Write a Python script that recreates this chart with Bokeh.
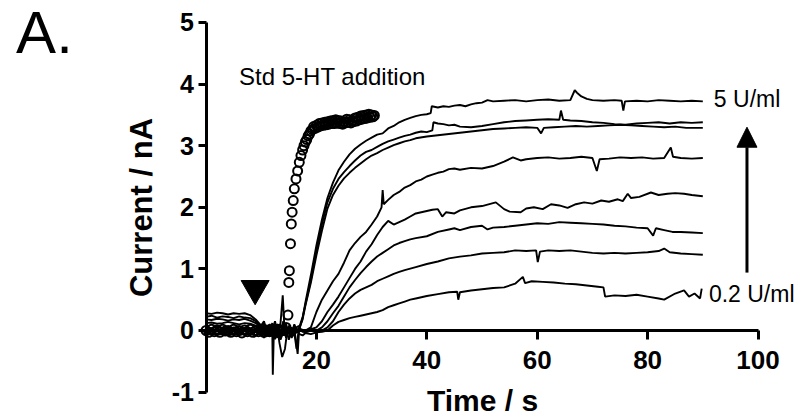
from bokeh.plotting import figure
from bokeh.models import Range1d, LinearAxis, FixedTicker, Label, Arrow, NormalHead, ColumnDataSource
from bokeh.embed import file_html
from bokeh.resources import INLINE

# ---------------- data (time in s, current in nA) ----------------
trace_5u = [(0,0.05),(1,0.03),(2,0.06),(3,0.04),(4,0.02),(5,0.05),(6,0.03),(7,0.04),(8,0.02),(9,0.0),(10,0.06),(10.5,-0.03),(11,0.08),(11.5,-0.05),(12,0.12),(12.5,-0.1),(13,0.1),(13.5,-0.06),(14,0.15),(14.5,-0.12),(15,0.08),(15.5,-0.05),(16,0.1),(16.5,-0.02),(17,0.05),(17.5,0.2),(18,0.45),(19,0.9),(20,1.38),(21,1.8),(22,2.15),(23,2.4),(24,2.6),(25,2.74),(26,2.86),(27,2.95),(28,3.02),(29,3.08),(30,3.13),(31,3.18),(32,3.2),(33,3.28),(34,3.32),(35,3.38),(36,3.42),(37,3.45),(38,3.48),(39,3.5),(40,3.51),(40.7,3.53),(40.9,3.64),(42,3.62),(43,3.64),(44,3.63),(45,3.65),(46,3.66),(47,3.64),(48,3.67),(49,3.69),(50,3.7),(51,3.74),(52,3.72),(54,3.73),(56,3.74),(58,3.72),(60,3.74),(62,3.75),(64,3.73),(66,3.74),(66.8,3.9),(67.2,3.86),(68,3.8),(69,3.76),(70,3.74),(72,3.73),(74,3.74),(75.3,3.73),(75.6,3.57),(75.9,3.72),(78,3.73),(80,3.72),(82,3.74),(84,3.73),(86,3.72),(88,3.73),(90,3.72)]

trace_2 = [(0,0.22),(1,0.24),(2,0.21),(3,0.23),(4,0.22),(5,0.2),(6,0.23),(7,0.21),(8,0.2),(9,0.15),(10,0.05),(10.5,0.12),(11,-0.04),(11.5,0.1),(12,0.02),(12.5,0.15),(13,-0.05),(13.5,0.08),(14,-0.02),(14.5,0.1),(15,-0.06),(15.5,0.05),(16,-0.03),(16.5,0.06),(17,0.08),(17.5,0.22),(18,0.42),(19,0.82),(20,1.3),(21,1.72),(22,2.08),(23,2.3),(24,2.46),(25,2.57),(26,2.67),(27,2.76),(28,2.84),(29,2.9),(30,2.93),(31,2.98),(32,3.03),(33,3.07),(34,3.1),(35,3.13),(36,3.16),(37,3.18),(38,3.21),(39,3.23),(40,3.22),(41,3.25),(41.2,3.38),(42,3.36),(43,3.35),(44,3.33),(45,3.34),(46,3.31),(48,3.3),(50,3.32),(52,3.35),(54,3.38),(56,3.4),(58,3.41),(60,3.42),(62,3.43),(64,3.42),(64.3,3.57),(64.7,3.42),(66,3.41),(68,3.4),(70,3.38),(72,3.37),(74,3.35),(76,3.34),(78,3.36),(80,3.37),(82,3.38),(84,3.36),(86,3.38),(88,3.37),(90,3.38)]

trace_3 = [(0,0.12),(1,0.13),(2,0.11),(3,0.12),(4,0.14),(5,0.12),(6,0.1),(7,0.12),(8,0.11),(9,0.08),(10,0.02),(10.5,-0.08),(11,0.05),(11.5,-0.02),(12,0.06),(12.5,-0.06),(13,0.03),(13.5,-0.1),(14,0.05),(14.5,-0.04),(15,0.02),(15.5,-0.08),(16,0.04),(16.5,0.0),(17,0.06),(17.5,0.18),(18,0.4),(19,0.78),(20,1.22),(21,1.62),(22,1.98),(23,2.2),(24,2.35),(25,2.47),(26,2.56),(27,2.64),(28,2.71),(29,2.78),(30,2.84),(31,2.88),(32,2.93),(33,2.97),(34,3.01),(35,3.04),(36,3.07),(37,3.09),(38,3.12),(40,3.15),(42,3.17),(44,3.19),(46,3.21),(48,3.23),(50,3.25),(52,3.27),(54,3.28),(56,3.29),(58,3.3),(60,3.29),(60.7,3.2),(61.2,3.29),(63,3.3),(65,3.31),(67,3.32),(69,3.31),(71,3.32),(73,3.33),(75,3.34),(77,3.33),(79,3.32),(81,3.31),(83,3.3),(85,3.31),(87,3.29),(90,3.29)]

trace_4 = [(0,0.18),(1,0.17),(2,0.19),(3,0.18),(4,0.16),(5,0.18),(6,0.17),(7,0.19),(8,0.16),(9,0.12),(10,0.05),(10.5,0.1),(11,-0.02),(11.5,0.08),(12,-0.05),(12.5,0.05),(13,0.0),(13.5,0.12),(13.9,0.57),(14.2,0.05),(14.6,-0.1),(15,0.05),(15.5,-0.05),(16,0.08),(16.5,-0.04),(17,0.02),(18,0.0),(19,0.05),(20,0.3),(21,0.5),(22,0.65),(23,0.8),(24,0.92),(25,1.1),(26,1.3),(27,1.42),(28,1.52),(29,1.6),(30,1.72),(31,1.85),(31.8,2.0),(32,2.28),(32.2,2.05),(33,2.12),(34,2.2),(35,2.25),(36,2.32),(37,2.36),(38,2.42),(39,2.45),(40,2.5),(41,2.53),(42,2.56),(43,2.58),(44,2.62),(45,2.63),(46,2.61),(48,2.64),(50,2.63),(52,2.67),(54,2.74),(55.6,2.81),(57,2.76),(58,2.78),(60,2.8),(62,2.81),(64,2.79),(66,2.8),(68,2.82),(70,2.8),(70.8,2.59),(71.3,2.78),(73,2.79),(75,2.81),(77,2.8),(79,2.81),(81,2.79),(83,2.8),(84.2,2.97),(84.6,2.82),(86,2.8),(88,2.79),(90,2.8)]

trace_5 = [(0,0.28),(1,0.27),(2,0.29),(3,0.28),(4,0.26),(5,0.28),(6,0.27),(7,0.28),(8,0.25),(9,0.18),(10,0.08),(10.5,0.15),(11,0.0),(11.5,0.1),(12,0.05),(12.1,-0.72),(12.3,0.02),(13,0.1),(13.5,-0.05),(14,0.08),(14.5,-0.02),(15,0.06),(15.5,-0.06),(16,0.04),(17,0.0),(18,-0.02),(19,0.02),(20,0.05),(21,0.15),(22,0.3),(23,0.42),(24,0.55),(25,0.7),(26,0.85),(27,1.0),(28,1.12),(29,1.28),(30,1.4),(31,1.55),(32,1.68),(33,1.78),(34,1.72),(35,1.76),(36,1.8),(37,1.85),(38,1.9),(39,1.92),(40,1.94),(41,1.96),(42,1.97),(42.8,1.85),(43.5,1.92),(45,1.9),(46,1.95),(48,2.0),(50,2.02),(52.5,2.08),(54,1.97),(55,1.93),(57,1.92),(58,1.98),(59.4,2.0),(61,1.97),(62.5,2.05),(64,2.03),(65.5,1.99),(67,2.05),(68.5,2.08),(70,2.06),(71.6,2.11),(73,2.09),(74.6,2.13),(75.5,2.1),(76.4,2.22),(77,2.15),(78.5,2.17),(80.6,2.24),(82,2.2),(83.6,2.22),(85,2.23),(86.6,2.22),(88,2.2),(90,2.18)]

trace_6 = [(0,0.0),(1,0.02),(2,-0.01),(3,0.01),(4,0.0),(5,-0.02),(6,0.01),(7,0.0),(8,-0.01),(9,0.02),(10,0.0),(10.5,0.08),(11,-0.05),(11.5,0.05),(12,-0.08),(12.5,0.06),(13,0.0),(13.3,-0.2),(13.8,-0.43),(14.3,-0.3),(14.8,0.05),(15.3,-0.1),(16,0.03),(16.6,-0.38),(16.9,0.05),(17.5,-0.02),(18,0.0),(19,0.02),(20,0.0),(21,0.05),(22,0.15),(23,0.28),(24,0.4),(25,0.55),(26,0.7),(27,0.82),(28,0.93),(29,1.03),(30,1.12),(31,1.2),(32,1.26),(33,1.32),(34,1.38),(35,1.42),(36,1.45),(37,1.48),(38,1.5),(40,1.53),(42,1.6),(44,1.64),(45,1.66),(46,1.63),(48,1.68),(50,1.7),(51,1.64),(52,1.67),(54,1.68),(56,1.7),(58,1.72),(60,1.74),(62,1.73),(64,1.76),(66,1.75),(68,1.74),(70,1.73),(72,1.72),(74,1.7),(76,1.69),(78,1.67),(80,1.66),(81,1.54),(81.5,1.66),(83,1.63),(84.5,1.6),(86,1.6),(88,1.59),(90,1.58)]

trace_7 = [(0,-0.04),(1,-0.02),(2,-0.05),(3,-0.03),(4,-0.04),(5,-0.06),(6,-0.03),(7,-0.05),(8,-0.04),(9,-0.02),(10,-0.06),(10.5,0.04),(11,-0.1),(11.5,0.02),(12,-0.04),(12.5,0.08),(13,-0.12),(13.5,0.0),(14,-0.08),(14.5,0.06),(15,-0.15),(15.5,0.02),(16,-0.05),(17,0.0),(18,-0.03),(19,0.0),(20,-0.02),(21,0.0),(22,0.05),(23,0.15),(24,0.3),(25,0.42),(26,0.52),(27,0.6),(28,0.66),(29,0.7),(30,0.74),(31,0.8),(32,0.84),(33,0.88),(34,0.92),(35,0.95),(36,0.98),(38,1.03),(40,1.08),(42,1.12),(44,1.17),(46,1.2),(48,1.22),(50,1.25),(52,1.26),(54,1.27),(56,1.3),(58,1.29),(59.8,1.3),(60.1,1.11),(60.5,1.28),(62,1.3),(64,1.29),(66,1.3),(68,1.28),(70,1.26),(72,1.25),(74,1.26),(76,1.25),(78,1.26),(80,1.27),(82,1.29),(83,1.33),(84,1.27),(86,1.25),(88,1.24),(90,1.23)]

trace_02u = [(0,-0.06),(1,-0.05),(2,-0.07),(3,-0.05),(4,-0.08),(5,-0.06),(6,-0.05),(7,-0.07),(8,-0.06),(9,-0.08),(10,-0.04),(10.5,-0.12),(11,-0.02),(11.5,-0.1),(12,0.0),(12.5,-0.14),(13,-0.05),(13.5,-0.15),(14,-0.02),(14.5,-0.1),(15,0.0),(15.5,-0.12),(16,-0.04),(16.4,-0.3),(16.7,-0.05),(17.5,-0.08),(18,-0.04),(19,-0.06),(20,-0.03),(21,-0.02),(22,0.0),(23,0.08),(24,0.14),(25,0.17),(26,0.2),(27,0.22),(28,0.24),(29,0.26),(30,0.28),(31,0.3),(32,0.33),(33,0.38),(34,0.41),(35,0.44),(36,0.47),(37,0.5),(38,0.52),(39,0.54),(40,0.56),(42,0.59),(44,0.62),(45.5,0.63),(45.7,0.5),(46,0.62),(48,0.65),(50,0.67),(52,0.69),(54,0.7),(56,0.76),(57.4,0.87),(57.8,0.77),(59,0.8),(61,0.79),(63,0.78),(65,0.76),(67,0.75),(69,0.73),(71,0.71),(72,0.7),(72.3,0.55),(74,0.57),(76,0.56),(78,0.58),(80,0.55),(82,0.52),(83,0.5),(85,0.6),(86.6,0.65),(87.5,0.55),(88.5,0.6),(89.5,0.52),(89.8,0.68)]

standard_addition = [(0,0.0),(0.5,-0.03),(1,0.02),(1.5,-0.02),(2,0.01),(2.5,-0.03),(3,0.02),(3.5,-0.01),(4,0.0),(4.5,-0.03),(5,0.02),(5.5,-0.02),(6,0.0),(6.5,-0.04),(7,0.01),(7.5,-0.02),(8,0.02),(8.5,-0.03),(9,0.0),(9.5,-0.02),(10,0.02),(10.5,-0.03),(11,0.01),(11.5,-0.02),(12,0.0),(12.5,-0.03),(13,0.02),(13.5,-0.01),(14,0.0),(14.5,0.05),(14.85,0.25),(15.0,0.78),(15.1,0.97),(15.3,1.41),(15.45,1.73),(15.6,1.92),(15.8,2.11),(16.0,2.3),(16.3,2.46),(16.6,2.59),(16.9,2.73),(17.2,2.84),(17.5,2.93),(17.75,3.0),(18.0,3.06),(18.25,3.1),(18.5,3.16),(18.75,3.19),(19.0,3.24),(19.25,3.26),(19.5,3.31),(19.75,3.28),(20.0,3.33),(20.25,3.3),(20.5,3.36),(20.75,3.32),(21.0,3.37),(21.25,3.33),(21.5,3.38),(21.75,3.34),(22.0,3.39),(22.25,3.35),(22.5,3.4),(22.75,3.36),(23.0,3.41),(23.25,3.36),(23.5,3.42),(23.75,3.37),(24.0,3.41),(24.25,3.36),(24.5,3.4),(24.75,3.35),(25.0,3.39),(25.25,3.37),(25.5,3.43),(25.75,3.38),(26.0,3.42),(26.25,3.37),(26.5,3.41),(26.75,3.39),(27.0,3.45),(27.25,3.4),(27.5,3.46),(27.75,3.42),(28.0,3.48),(28.25,3.43),(28.5,3.49),(28.75,3.44),(29.0,3.5),(29.25,3.45),(29.5,3.51),(29.75,3.46),(30.0,3.5),(30.25,3.47),(30.5,3.49)]

addition_time = [8.9]
addition_marker_level = [0.68]

x_ticks = [20, 40, 60, 80, 100]
x_tick_labels = ["20", "40", "60", "80", "100"]
y_ticks = [-1, 0, 1, 2, 3, 4, 5]
y_tick_labels = ["-1", "0", "1", "2", "3", "4", "5"]

traces = [trace_5u, trace_2, trace_3, trace_4, trace_5, trace_6, trace_7, trace_02u]

FONT = "Liberation Sans"

# The frame fills the whole canvas; the axes cross at (0, 0) and are bounded.
p = figure(width=803, height=415, x_range=Range1d(-37.23, 108.24), y_range=Range1d(-1.38, 5.357),
           output_backend="svg", toolbar_location=None, x_axis_location=None, y_axis_location=None,
           min_border=0)
p.outline_line_color = None
p.grid.visible = False
p.background_fill_color = "white"
p.border_fill_color = "white"


def style_axis(ax, ticks, labels, tick_out, label_standoff, title, title_standoff, tick_size, title_size):
    ax.ticker = FixedTicker(ticks=ticks)
    ax.major_label_overrides = {t: l for t, l in zip(ticks, labels)}
    ax.axis_line_width = 3
    ax.axis_line_color = "black"
    ax.major_tick_line_width = 3
    ax.major_tick_line_color = "black"
    ax.major_tick_out = tick_out
    ax.major_tick_in = 0
    ax.minor_tick_out = 0
    ax.minor_tick_in = 0
    ax.major_label_standoff = label_standoff
    ax.major_label_text_font = FONT
    ax.major_label_text_font_style = "bold"
    ax.major_label_text_font_size = tick_size
    ax.major_label_text_color = "black"
    ax.axis_label = title
    ax.axis_label_text_font = FONT
    ax.axis_label_text_font_style = "bold"
    ax.axis_label_text_font_size = title_size
    ax.axis_label_text_color = "black"
    ax.axis_label_standoff = title_standoff


ya = LinearAxis(fixed_location=0, bounds=(-1, 5))
style_axis(ya, y_ticks, y_tick_labels, 8, 4, "Current / nA", 10, "25px", "31px")
p.add_layout(ya, "left")

xa = LinearAxis(fixed_location=0, bounds=(0, 100))
style_axis(xa, x_ticks, x_tick_labels, 9, 12, "Time / s", 11, "26px", "30px")
p.add_layout(xa, "below")

for tr in traces:
    src = ColumnDataSource(dict(t=[a for a, b in tr], i=[b for a, b in tr]))
    p.line("t", "i", source=src, line_color="black", line_width=1.9)

std_src = ColumnDataSource(dict(t=[a for a, b in standard_addition], i=[b for a, b in standard_addition]))
p.scatter("t", "i", source=std_src, marker="circle", size=9, line_color="black",
          fill_color=None, line_width=2.0)

p.scatter(addition_time, addition_marker_level, marker="inverted_triangle", size=28,
          fill_color="black", line_color="black")

p.add_layout(Label(x=-34.4, y=4.83, text="A.", text_font=FONT, text_font_size="60px",
                   text_baseline="middle", text_color="black"))
p.add_layout(Label(x=5.98, y=4.13, text="Std 5-HT addition", text_font=FONT,
                   text_font_size="24px", text_baseline="middle", text_color="black"))
p.add_layout(Label(x=92.0, y=3.76, text="5 U/ml", text_font=FONT,
                   text_font_size="23px", text_baseline="middle", text_color="black"))
p.add_layout(Label(x=91.1, y=0.60, text="0.2 U/ml", text_font=FONT,
                   text_font_size="23px", text_baseline="middle", text_color="black"))

p.add_layout(Arrow(end=NormalHead(size=20, fill_color="black", line_color="black"),
                   x_start=98, y_start=0.94, x_end=98, y_end=3.3,
                   line_width=3, line_color="black"))

open("out.html", "w").write(file_html(p, INLINE))
